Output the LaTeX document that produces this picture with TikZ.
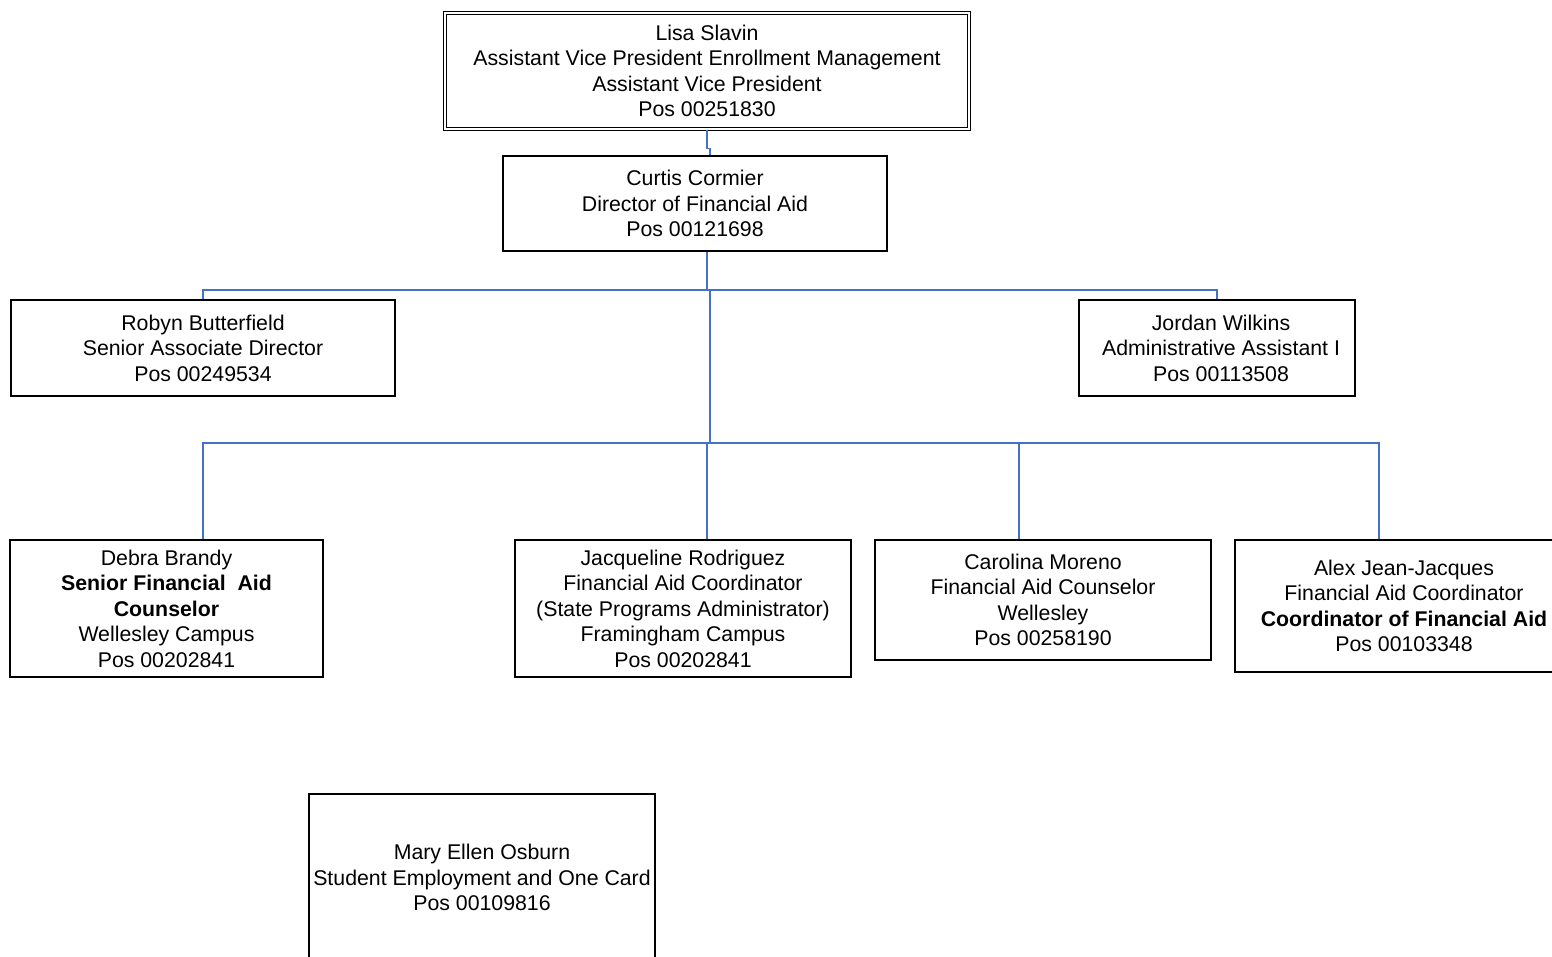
\documentclass[tikz,border=0pt]{standalone}
\usepackage{fontspec}
\setmainfont{Liberation Sans}
\usetikzlibrary{calc}
\definecolor{linkblue}{RGB}{68,114,196}
\tikzset{
  box/.style={draw=black, line width=1.8pt, fill=white, inner sep=0pt, align=center,
    font=\fontsize{21.3}{25.5}\selectfont},
  conn/.style={draw=linkblue, line width=1.5pt},
}
\begin{document}
\begin{tikzpicture}[x=1pt,y=-1pt]
\useasboundingbox (0,0) rectangle (1552,956);
\clip (0,0) rectangle (1552,956);
% positions
\node[box, double, double distance=1.6pt, line width=1.2pt,
      minimum width=524pt, minimum height=116pt] (lisa) at (707,71)
  {Lisa Slavin\\Assistant Vice President Enrollment Management\\Assistant Vice President\\Pos 00251830};
\node[box, minimum width=384pt, minimum height=95pt] (curtis) at (695,203.5)
  {Curtis Cormier\\Director of Financial Aid\\Pos 00121698};
\node[box, minimum width=384pt, minimum height=96pt] (robyn) at (203,348)
  {Robyn Butterfield\\Senior Associate Director\\Pos 00249534};
\node[box, minimum width=276pt, minimum height=96pt] (jordan) at (1217,348)
  {\hspace*{8pt}Jordan Wilkins\\\hspace*{8pt}Administrative Assistant I\\\hspace*{8pt}Pos 00113508};
\node[box, minimum width=313pt, minimum height=137pt] (debra) at (166.5,608.5)
  {Debra Brandy\\\textbf{Senior Financial\ \ Aid}\\\textbf{Counselor}\\Wellesley Campus\\Pos 00202841};
\node[box, minimum width=336pt, minimum height=137pt] (jac) at (683,608.5)
  {Jacqueline Rodriguez\\Financial Aid Coordinator\\(State Programs Administrator)\\Framingham Campus\\Pos 00202841};
\node[box, minimum width=336pt, minimum height=120pt] (carolina) at (1043,600)
  {Carolina Moreno\\Financial Aid Counselor\\Wellesley\\Pos 00258190};
\node[box, minimum width=338pt, minimum height=132pt] (alex) at (1404,606)
  {Alex Jean-Jacques\\Financial Aid Coordinator\\\textbf{Coordinator of Financial Aid}\\Pos 00103348};
\node[box, minimum width=346pt, minimum height=167pt] (mary) at (482,877.5)
  {Mary Ellen Osburn\\Student Employment and One Card\\Pos 00109816};
% bus points
\coordinate (busA) at (707,290);
\coordinate (busB) at (710,443);
% connectors
\draw[conn] (lisa.south) -- ++(0,19) -| ($(curtis.north)+(15,0)$);
\draw[conn] ($(curtis.south)+(12,0)$) -- (busA);
\draw[conn] (busA) -| (robyn.north);
\draw[conn] (busA) -| (jordan.north);
\draw[conn] (busA) -- ++(3,0) -- (busB);
\draw[conn] (busB) -| ($(debra.north)+(36.5,0)$);
\draw[conn] (busB) -| ($(jac.north)+(24,0)$);
\draw[conn] (busB) -| ($(carolina.north)+(-24,0)$);
\draw[conn] (busB) -| ($(alex.north)+(-25,0)$);
\end{tikzpicture}
\end{document}
